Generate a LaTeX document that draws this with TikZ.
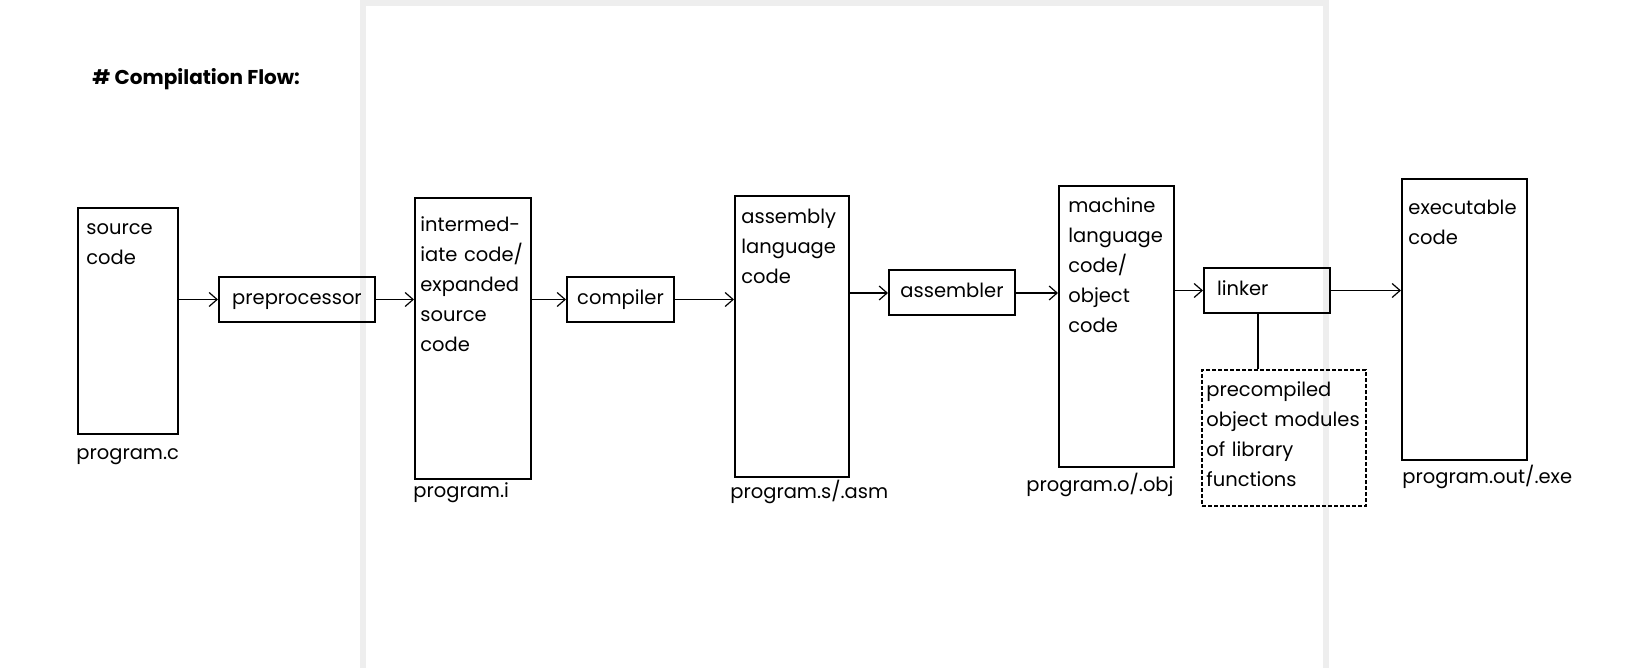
\documentclass[tikz,border=0pt]{standalone}
\usepackage{fontspec}
\setmainfont{Poppins}
\usepackage{tikz}
\usetikzlibrary{arrows.meta,calc,positioning}
\definecolor{framegray}{HTML}{EEEEEE}
\tikzset{%
	store/.style   = {draw, rectangle, line width=1pt, minimum height=140.5pt, inner sep=0pt}, % file box
	stage/.style   = {draw, rectangle, line width=1pt, minimum height=22.5pt, text height=7.5pt, text depth=2.5pt, inner xsep=4pt}, % tool box
	library/.style = {draw, rectangle, line width=1pt, dash pattern=on 2pt off 1pt, inner sep=0pt}, % library
	content/.style = {anchor=base west, inner sep=0pt, text width=150pt, align=left}, % text in a box
	tag/.style     = {anchor=base west, inner sep=0pt}, % file name
	flow/.style    = {line width=0.6pt, ->},
}

\begin{document}
\begin{tikzpicture}[x=0.5pt, y=-0.5pt, >={Straight Barb[length=4pt,width=7pt]}, font=\fontsize{9.75}{15}\selectfont]
	\useasboundingbox (0,0) rectangle (1635,668);
	\draw[framegray, line width=3pt] (363,668) -- (363,3) -- (1326,3) -- (1326,668);
	\node [anchor=base west, inner sep=0pt, font=\fontsize{10}{12}\selectfont\bfseries] (title) at (92,85) {\# Compilation Flow:};

	% files
	\node [store, minimum width=50pt, minimum height=113pt] (src) at (128,321) {};
	\node [store, minimum width=58pt] (inter) at (473,338.5) {};
	\node [store, minimum width=57pt] (asm) at (792,336.5) {};
	\node [store, minimum width=57.5pt] (mach) at (1116.5,326.5) {};
	\node [store, minimum width=62.5pt] (exe) at (1464.5,319.5) {};
	\node [content] (srcT) at ([shift={(9,28)}]src.north west) {source\\code};
	\node [content] (interT) at ([shift={(6,35)}]inter.north west) {intermed-\\iate code/\\expanded\\source\\code};
	\node [content] (asmT) at ([shift={(7,29)}]asm.north west) {assembly\\language\\code};
	\node [content] (machT) at ([shift={(10,28)}]mach.north west) {machine\\language\\code/\\object\\code};
	\node [content] (exeT) at ([shift={(7,37)}]exe.north west) {executable\\code};

	% tools
	\node [stage, minimum width=78pt] (pre) at (297,299.5) {preprocessor};
	\node [stage, minimum width=53.5pt] (comp) at (620.5,299.5) {compiler};
	\node [stage, minimum width=63pt] (asmr) at (952,293) {assembler};
	\node [stage, inner xsep=6.5pt, text width=50pt, align=left] (link) at (1267,290.5) {linker};
	\node [library, minimum width=82pt, minimum height=68pt] (lib) at (1284,438) {};
	\node [content] (libT) at ([shift={(5,28)}]lib.north west) {precompiled\\object modules\\of library\\functions};

	% file names
	\node [tag] (srcN) at ([shift={(-1,24)}]src.south west) {program.c};
	\node [tag] (interN) at ([shift={(-1,18)}]inter.south west) {program.i};
	\node [tag] (asmN) at ([shift={(-4,21)}]asm.south west) {program.s/.asm};
	\node [tag] (machN) at ([shift={(-32,24)}]mach.south west) {program.o/.obj};
	\node [tag] (exeN) at ([shift={(1,22)}]exe.south west) {program.out/.exe};

	\draw[flow] (src.east |- pre.west) -- (pre.west);
	\draw[flow] (pre.east) -- (pre.east -| inter.west);
	\draw[flow] (inter.east |- comp.west) -- (comp.west);
	\draw[flow] (comp.east) -- (comp.east -| asm.west);
	\draw[flow] (asm.east |- asmr.west) -- (asmr.west);
	\draw[flow] (asmr.east) -- (asmr.east -| mach.west);
	\draw[flow] (mach.east |- link.west) -- (link.west);
	\draw[flow] (link.east) -- (link.east -| exe.west);
	\draw[line width=0.6pt] ([xshift=-4.5pt]link.south) -- ([xshift=-4.5pt]link.south |- lib.north);
\end{tikzpicture}
\end{document}
